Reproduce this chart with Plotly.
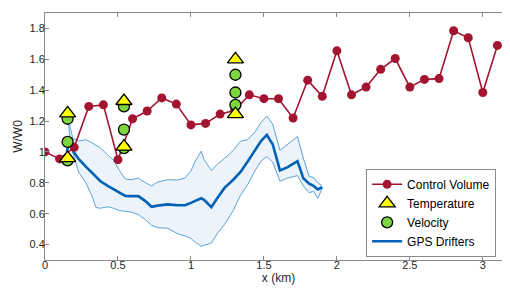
import plotly.graph_objects as go

# ---- Control volume ----
cv_x = [0.0, 0.1, 0.2, 0.3, 0.4, 0.5, 0.6, 0.7, 0.8, 0.9, 1.0, 1.1, 1.2, 1.3, 1.4, 1.5,
        1.6, 1.7, 1.8, 1.9, 2.0, 2.1, 2.2, 2.3, 2.4, 2.5, 2.6, 2.7, 2.8, 2.9, 3.0, 3.1]
cv_y = [1.0, 0.955, 1.03, 1.295, 1.305, 0.95, 1.215, 1.265, 1.35, 1.31, 1.175, 1.185, 1.245, 1.27, 1.37, 1.345,
        1.345, 1.22, 1.465, 1.36, 1.655, 1.37, 1.42, 1.535, 1.605, 1.42, 1.47, 1.475, 1.785, 1.74, 1.385, 1.69]

# ---- Temperature (triangles) ----
temp_x = [0.155, 0.155, 0.541, 0.541, 1.305, 1.305]
temp_y = [1.25, 0.96, 1.33, 1.035, 1.60, 1.245]

# ---- Velocity (circles) ----
vel_x = [0.155, 0.155, 0.155, 0.541, 0.541, 0.541, 1.305, 1.305, 1.305]
vel_y = [1.215, 1.065, 0.945, 1.295, 1.145, 1.025, 1.50, 1.385, 1.305]

# ---- GPS drifters ----
gps_x = [0.15, 0.16, 0.17, 0.19, 0.23, 0.28, 0.32, 0.35, 0.38, 0.43, 0.47, 0.51, 0.55, 0.59, 0.64, 0.69,
         0.73, 0.77, 0.84, 0.91, 0.96, 1.00, 1.03, 1.07, 1.09, 1.14, 1.18, 1.23, 1.29, 1.34, 1.39, 1.44,
         1.48, 1.52, 1.56, 1.61, 1.66, 1.73, 1.77, 1.81, 1.84, 1.87, 1.90]
gps_mean = [1.00, 1.06, 1.09, 1.01, 0.955, 0.905, 0.865, 0.84, 0.81, 0.78, 0.76, 0.737, 0.715, 0.714, 0.714, 0.68,
            0.645, 0.652, 0.66, 0.655, 0.655, 0.67, 0.685, 0.70, 0.69, 0.642, 0.70, 0.767, 0.82, 0.87, 0.94, 1.01,
            1.07, 1.11, 1.05, 0.88, 0.90, 0.94, 0.83, 0.795, 0.78, 0.757, 0.772]
gps_upper = [1.22, 1.24, 1.17, 1.09, 1.07, 1.08, 1.06, 1.045, 1.027, 0.98, 0.945, 0.88, 0.825, 0.82, 0.83, 0.80,
             0.78, 0.805, 0.82, 0.818, 0.832, 0.876, 0.94, 1.005, 0.95, 0.88, 0.92, 0.958, 1.01, 1.07, 1.08, 1.13,
             1.19, 1.233, 1.18, 1.01, 1.05, 1.10, 0.96, 0.84, 0.835, 0.80, 0.78]
gps_lower = [1.20, 1.19, 1.10, 1.00, 0.87, 0.80, 0.72, 0.64, 0.635, 0.645, 0.635, 0.62, 0.615, 0.61, 0.595, 0.56,
             0.525, 0.51, 0.505, 0.47, 0.455, 0.44, 0.415, 0.389, 0.395, 0.41, 0.47, 0.53, 0.62, 0.72, 0.79, 0.88,
             0.94, 0.97, 0.935, 0.81, 0.83, 0.847, 0.78, 0.735, 0.745, 0.70, 0.767]

x_ticks = [0, 0.5, 1, 1.5, 2, 2.5, 3]
x_labels = ["0", "0.5", "1", "1.5", "2", "2.5", "3"]
y_ticks = [0.4, 0.6, 0.8, 1.0, 1.2, 1.4, 1.6, 1.8]
y_labels = ["0.4", "0.6", "0.8", "1", "1.2", "1.4", "1.6", "1.8"]

RED = "#A2142F"
BLUE = "#0062B4"
LIGHT = "#5AA3DA"
FILL = "rgb(236,243,250)"
FONT = "Liberation Sans, Arial"

fig = go.Figure()

# band
fig.add_trace(go.Scatter(x=gps_x, y=gps_lower, mode="lines", line=dict(color=LIGHT, width=1),
                         showlegend=False, hoverinfo="skip"))
fig.add_trace(go.Scatter(x=gps_x, y=gps_upper, mode="lines", line=dict(color=LIGHT, width=1),
                         fill="tonexty", fillcolor=FILL, showlegend=False, hoverinfo="skip"))

fig.add_trace(go.Scatter(x=gps_x, y=gps_mean, mode="lines", name="GPS Drifters",
                         line=dict(color=BLUE, width=2.6), legendrank=4))

fig.add_trace(go.Scatter(x=cv_x, y=cv_y, mode="lines+markers", name="Control Volume",
                         line=dict(color=RED, width=1.6),
                         marker=dict(color=RED, size=9, symbol="circle"), legendrank=1))

fig.add_trace(go.Scatter(x=vel_x, y=vel_y, mode="markers", name="Velocity",
                         marker=dict(color="#7ED63F", size=11, symbol="circle",
                                     line=dict(color="black", width=1.3)), legendrank=3))

fig.add_trace(go.Scatter(x=temp_x, y=temp_y, mode="markers", name="Temperature",
                         marker=dict(color="#FFFF00", size=14, symbol="triangle-up",
                                     line=dict(color="black", width=1.3)), legendrank=2))

axis_common = dict(showline=True, linecolor="#8a8a8a", linewidth=1, mirror="ticks",
                   ticks="inside", ticklen=4, tickcolor="#8a8a8a", showgrid=False, zeroline=False,
                   tickfont=dict(family=FONT, size=11, color="#262626"))

fig.update_xaxes(range=[0, 3.2], tickvals=x_ticks, ticktext=x_labels, ticklabelstandoff=-5,
                 title=dict(text="x (km)", font=dict(family=FONT, size=12, color="#262626"),
                            standoff=2),
                 **axis_common)
fig.update_yaxes(range=[0.3, 1.9], tickvals=y_ticks, ticktext=y_labels, ticklabelstandoff=-3,
                 title=dict(text="W/W0", font=dict(family=FONT, size=12, color="#262626"),
                            standoff=4),
                 **axis_common)

fig.update_layout(
    width=510, height=290,
    margin=dict(l=37, r=6, t=5, b=38),
    plot_bgcolor="white", paper_bgcolor="white",
    legend=dict(x=0.966, y=0.191, xanchor="right", yanchor="middle",
                traceorder="normal",
                bgcolor="white", bordercolor="#8a8a8a", borderwidth=1,
                font=dict(family=FONT, size=12, color="black"),
                itemwidth=30, tracegroupgap=0),
)

fig.write_html("out.html")
